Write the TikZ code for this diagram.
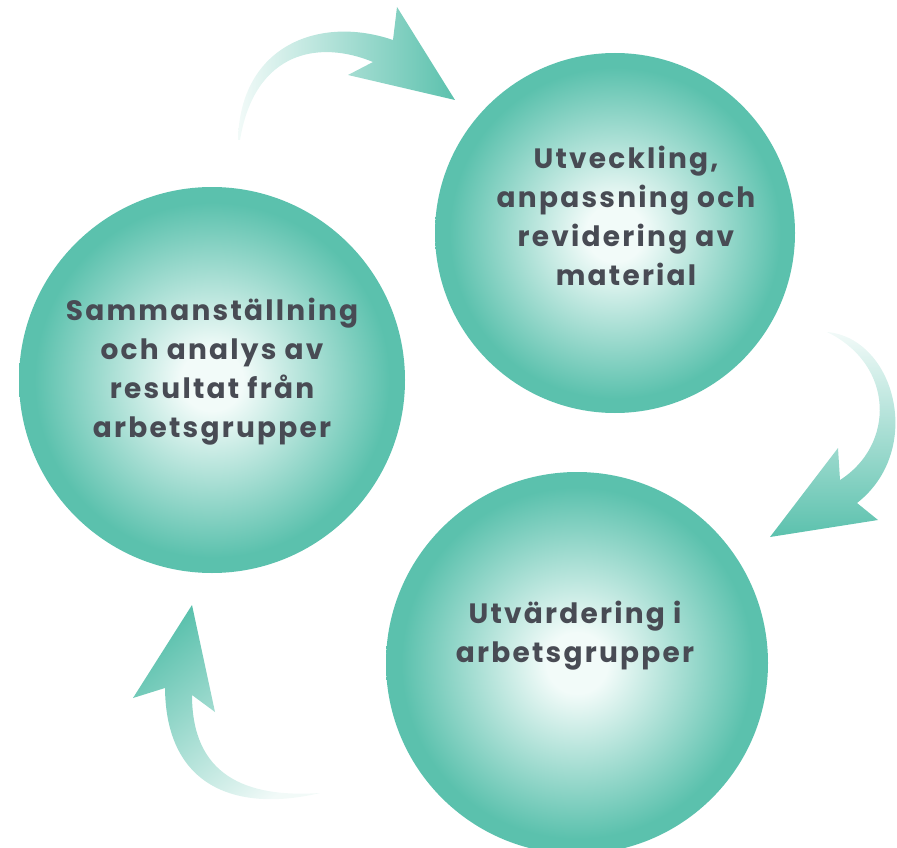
\documentclass[tikz,border=0pt]{standalone}
\usepackage{fontspec}
\setmainfont{Poppins}
\newfontfamily\lblfont{Poppins}[LetterSpace=8]
\definecolor{tealc}{RGB}{91,193,173}
\definecolor{palec}{RGB}{242,251,249}
\definecolor{textc}{RGB}{72,75,84}
\pgfdeclareradialshading{ball}{\pgfpoint{0bp}{0bp}}{color(0bp)=(palec); color(4bp)=(palec); color(23bp)=(tealc); color(25bp)=(tealc); color(50bp)=(tealc)}
\tikzset{
  bubble/.style={circle, inner sep=0pt, shading=ball},
  label text/.style={align=center, text=textc, font=\lblfont\fontsize{28}{39}\selectfont\bfseries, inner sep=0pt},
}
\begin{document}
\begin{tikzpicture}[x=1pt,y=-1pt]
\useasboundingbox (0,0) rectangle (897,848);
% circles
\node[bubble, minimum size=360pt] (c1) at (615,233) {};
\node[bubble, minimum size=386pt] (c2) at (212,380) {};
\node[bubble, minimum size=382pt] (c3) at (577,663) {};
% texts
\node[label text] (t1) at (626,216) {Utveckling,\\anpassning och\\revidering av\\material};
\node[label text] (t2) at (212,372) {Sammanställning\\och analys av\\resultat från\\arbetsgrupper};
\node[label text] (t3) at (575,636) {Utvärdering i\\arbetsgrupper};
% arrow 1 (top)
\shade[left color=tealc!8, middle color=tealc!85, right color=tealc]
  (238,140) .. controls (240,45) and (320,15) .. (393,40)
  -- (397,7) -- (455,100) -- (348,75) -- (373,62)
  .. controls (320,40) and (255,50) .. (240,140) -- cycle;
% arrow 2 (right)
\shade[top color=tealc!8, middle color=tealc!85, bottom color=tealc]
  (827,332) .. controls (895,338) and (925,450) .. (857,503)
  -- (878,520) -- (770,537) -- (838,448) -- (840,480)
  .. controls (895,445) and (895,365) .. (827,332) -- cycle;
% arrow 3 (bottom left)
\shade[top color=tealc, middle color=tealc!85, bottom color=tealc!8, shading angle=40]
  (192,695) -- (215,712) -- (192,605) -- (133,698) -- (165,688)
  .. controls (166,790) and (240,812) .. (320,793)
  .. controls (245,798) and (192,775) .. (192,695) -- cycle;
\end{tikzpicture}
\end{document}
